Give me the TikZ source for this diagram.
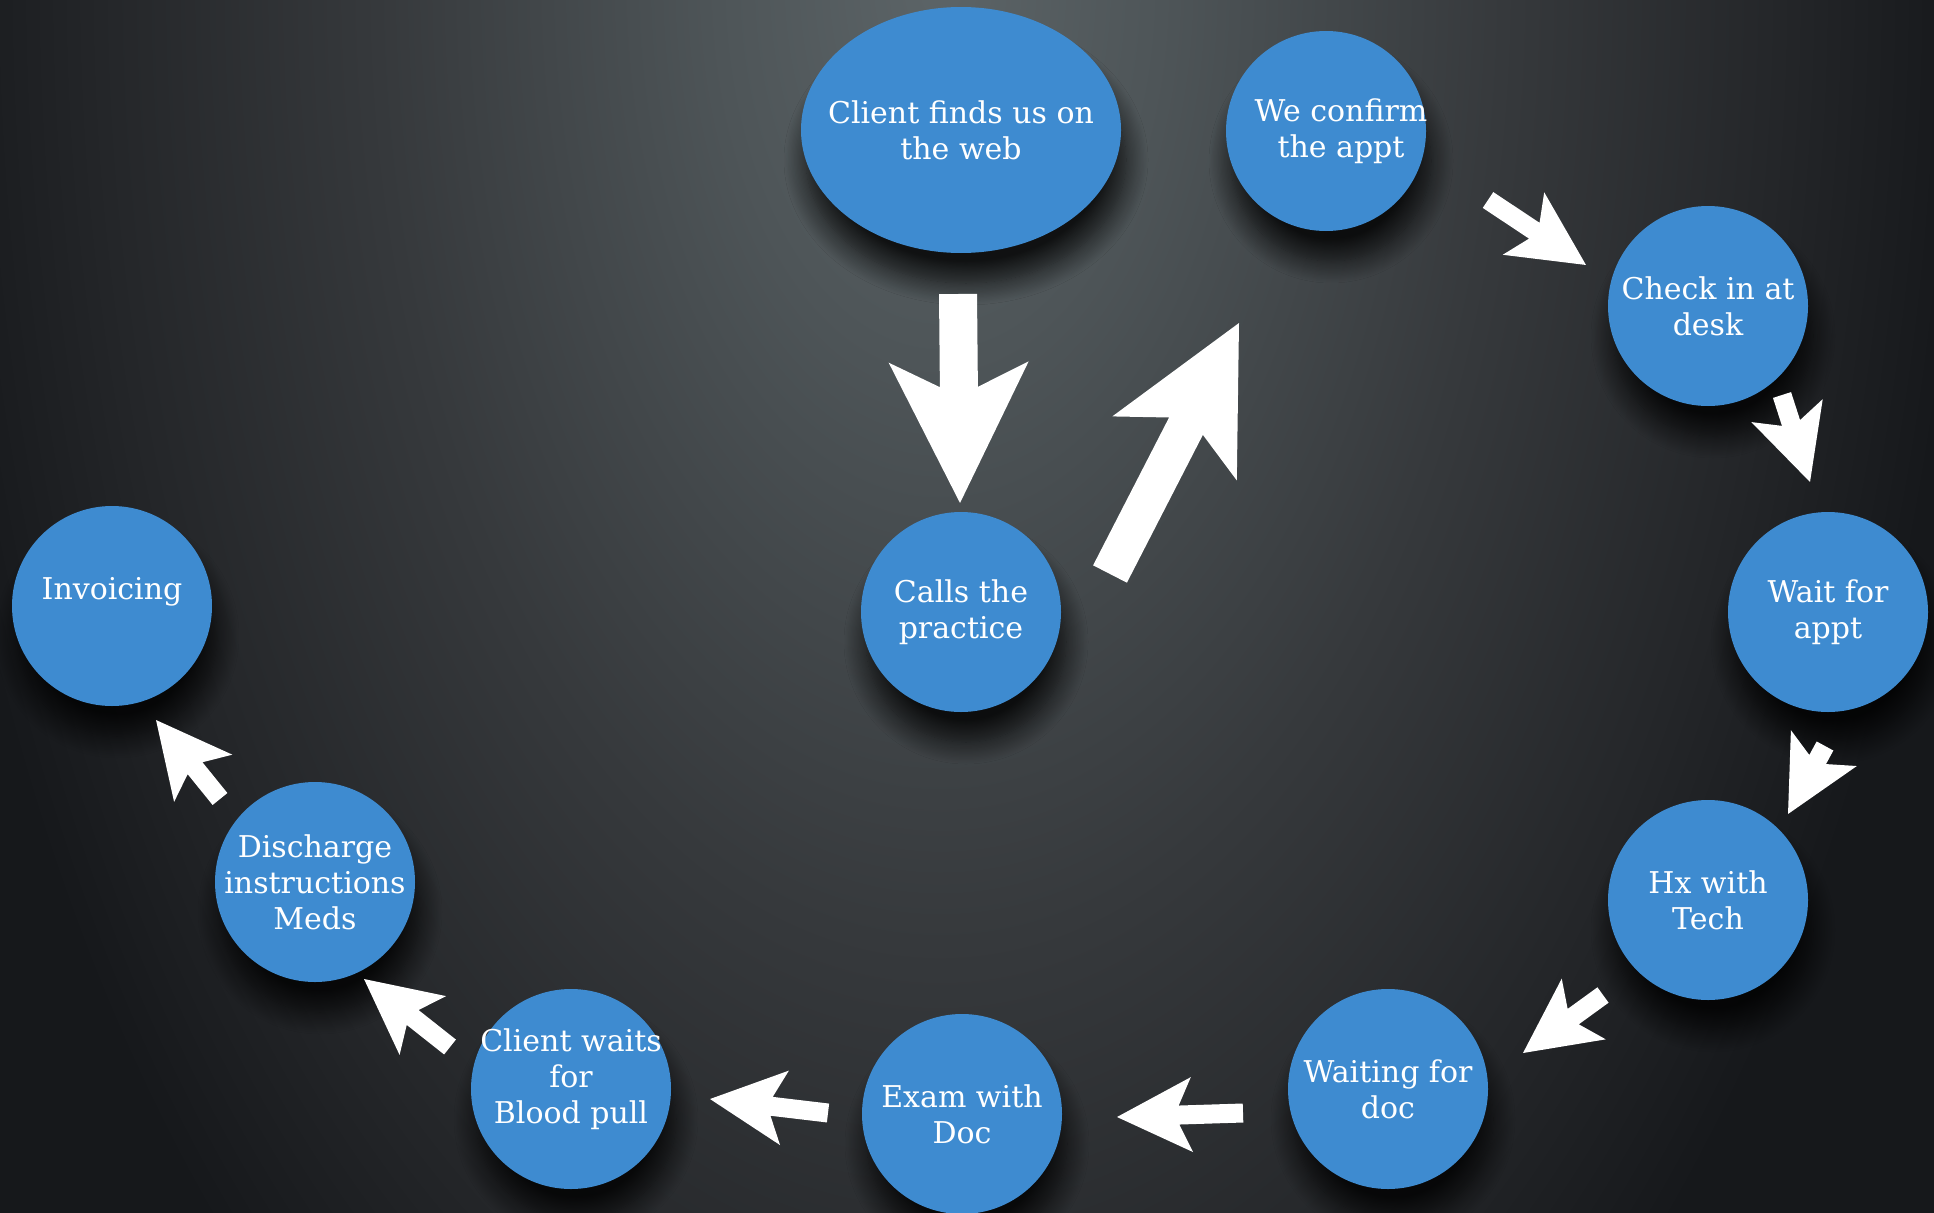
\documentclass[tikz,border=0pt]{standalone}
\usepackage{fontspec}
\setmainfont{DejaVu Serif}
\usetikzlibrary{shapes.geometric,calc,shadows.blur}
\definecolor{nodeblue}{RGB}{62,139,208}
\definecolor{bgdark}{RGB}{22,24,27}
\definecolor{glowA}{RGB}{92,100,103}
\definecolor{glowB}{RGB}{78,85,88}
\definecolor{glowC}{RGB}{54,57,60}
\definecolor{glowD}{RGB}{36,38,41}
\pgfdeclareradialshading{bgglow}{\pgfpoint{0bp}{0bp}}{color(0bp)=(glowA); color(5.3bp)=(glowB); color(13.4bp)=(glowC); color(20bp)=(glowD); color(24.5bp)=(bgdark); color(50bp)=(bgdark)}
\newcommand\stagefont{\fontsize{30}{36}\selectfont}
% tail, tip, shaft half width, head half width, head length, notch
\newcommand\drawblockarrow[6]{%
  \fill[white] let \p1=($(#2)-(#1)$), \n1={atan2(\y1,\x1)}, \n2={veclen(\x1,\y1)} in
    [shift={(#1)}, rotate=\n1]
    (0,#3) -- (\n2-#5+#6,#3) -- (\n2-#5,#4) -- (\n2,0) -- (\n2-#5,-#4) -- (\n2-#5+#6,-#3) -- (0,-#3) -- cycle;
}
\tikzset{
  stage/.style={circle, fill=nodeblue, minimum size=200pt, inner sep=-30pt,
    text=white, align=center, font=\stagefont,
    blur shadow={shadow xshift=5pt, shadow yshift=-30pt, shadow blur radius=22pt,
      shadow blur steps=18, shadow opacity=80}},
}
\begin{document}
\begin{tikzpicture}[x=1pt,y=-1pt]
\useasboundingbox (0,0) rectangle (1934,1212);
\begin{scope}
  \clip (0,0) rectangle (1934,1212);
  \fill[bgdark] (-5,-5) rectangle (1940,1220);
  \shade[shading=bgglow] (940,-20) ellipse [x radius=1050, y radius=1800];
\end{scope}

\node[stage, ellipse, minimum width=320pt, minimum height=246pt] (web) at (961,130) {Client finds us on\\the web};
\node[stage] (confirm) at (1326,131) {\hspace*{30pt}We confirm\\\hspace*{30pt}the appt};
\node[stage] (checkin) at (1708,306) {Check in at\\desk};
\node[stage] (wait) at (1828,612) {Wait for\\appt};
\node[stage] (hx) at (1708,900) {Hx with\\Tech};
\node[stage] (waitdoc) at (1388,1089) {Waiting for\\doc};
\node[stage] (exam) at (962,1114) {Exam with\\Doc};
\node[stage] (blood) at (571,1089) {Client waits\\for\\Blood pull\\[-10pt]\mbox{}};
\node[stage] (discharge) at (315,882) {Discharge\\instructions\\Meds};
\node[stage] (invoice) at (112,606) {Invoicing\\\mbox{}};
\node[stage] (calls) at (961,612) {Calls the\\practice};

\coordinate (a1t) at (958,294);   \coordinate (a1h) at (960,503);
\coordinate (a2t) at (1110,574);  \coordinate (a2h) at (1239,323);
\coordinate (a3t) at (1488,200);  \coordinate (a3h) at (1586,265);
\coordinate (a4t) at (1782,395);  \coordinate (a4h) at (1810,482);
\coordinate (a5t) at (1825,746);  \coordinate (a5h) at (1788,814);
\coordinate (a6t) at (1603,995);  \coordinate (a6h) at (1523,1053);
\coordinate (a7t) at (1243,1113); \coordinate (a7h) at (1117,1117);
\coordinate (a8t) at (828,1113);  \coordinate (a8h) at (710,1099);
\coordinate (a9t) at (450,1047);  \coordinate (a9h) at (364,979);
\coordinate (a10t) at (220,799);  \coordinate (a10h) at (156,720);

\drawblockarrow{a1t}{a1h}{19}{70}{141}{25}
\drawblockarrow{a2t}{a2h}{19}{70}{141}{25}
\drawblockarrow{a3t}{a3h}{9.5}{37.5}{75}{13}
\drawblockarrow{a4t}{a4h}{9.5}{37.5}{75}{13}
\drawblockarrow{a5t}{a5h}{9.5}{37.5}{75}{13}
\drawblockarrow{a6t}{a6h}{9.5}{37.5}{75}{13}
\drawblockarrow{a7t}{a7h}{9.5}{37.5}{75}{13}
\drawblockarrow{a8t}{a8h}{9.5}{37.5}{75}{13}
\drawblockarrow{a9t}{a9h}{9.5}{37.5}{75}{13}
\drawblockarrow{a10t}{a10h}{9.5}{37.5}{75}{13}
\end{tikzpicture}
\end{document}
